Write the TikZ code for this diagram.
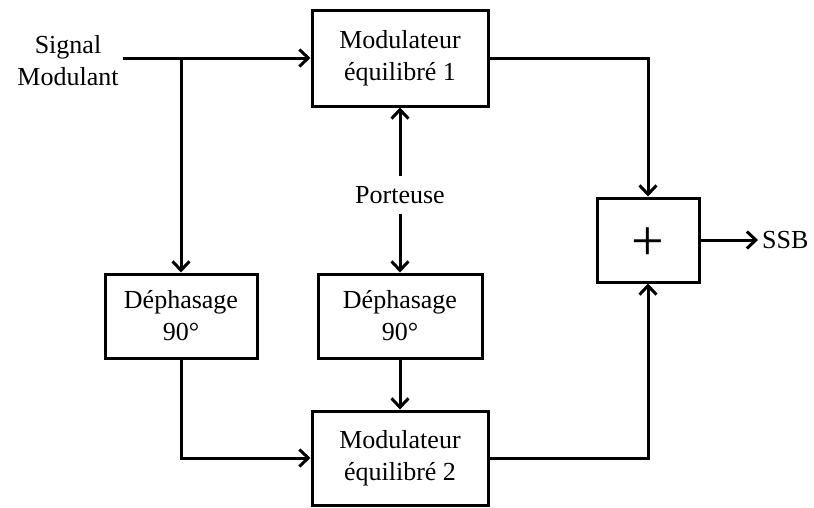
\documentclass[tikz,border=0pt]{standalone}
\usepackage{fontspec}
\setmainfont{Liberation Serif}
\usetikzlibrary{arrows.meta}
\tikzset{
  bloc/.style={draw, line width=3pt, align=center, inner sep=0pt},
  lien/.style={line width=3pt, ->},
  >={Straight Barb[length=9pt,width=17pt]}
}
\begin{document}
\begin{tikzpicture}[x=1pt, y=-1pt, font=\fontsize{26}{32}\selectfont]
  \useasboundingbox (0,0) rectangle (814,507);
  % Modulateurs
  \node[bloc, minimum width=176pt, minimum height=96pt] (mod1) at (400,58) {Modulateur\\équilibré 1};
  \node[bloc, minimum width=176pt, minimum height=94pt] (mod2) at (400,458) {Modulateur\\équilibré 2};
  % Dephaseurs
  \node[bloc, minimum width=152pt, minimum height=84pt] (dephL) at (181,316) {Déphasage\\90°};
  \node[bloc, minimum width=164pt, minimum height=84pt] (dephM) at (400,316) {Déphasage\\90°};
  % Sommateur
  \node[bloc, minimum width=102pt, minimum height=84pt] (som) at (648,240) {};
  \node[font=\fontsize{58}{58}\selectfont, inner sep=0pt] (plus) at (648,244) {+};
  % Textes
  \node[align=center, inner sep=4pt] (sig) at (68,61) {Signal\\Modulant};
  \node[inner sep=10pt] (port) at (400,195) {Porteuse};
  \node[anchor=west, inner sep=4pt] (ssb) at (758,240) {SSB};
  \coordinate (br) at (dephL.north |- mod1.west);
  % Liaisons
  \draw[lien] (sig.east |- mod1.west) -- (mod1.west);
  \draw[lien] (br) -- (dephL.north);
  \draw[lien] (port.north) -- (mod1.south);
  \draw[lien] (port.south) -- (dephM.north);
  \draw[lien] (dephM.south) -- (mod2.north);
  \draw[lien] (dephL.south) |- (mod2.west);
  \draw[lien] (mod1.east) -| (som.north);
  \draw[lien] (mod2.east) -| (som.south);
  \draw[lien] (som.east) -- (som.east -| ssb.west);
\end{tikzpicture}
\end{document}
